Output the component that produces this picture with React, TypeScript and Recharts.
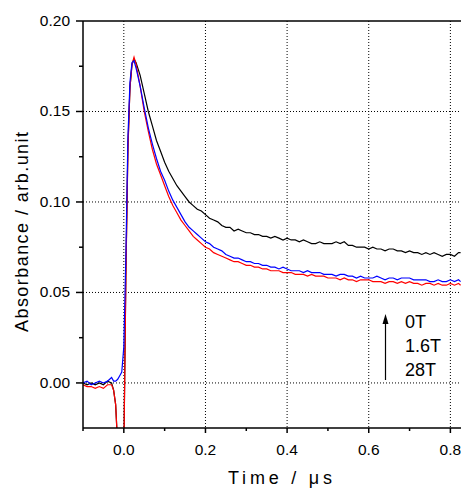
import { LineChart, Line, XAxis, YAxis, CartesianGrid, ReferenceLine } from 'recharts';

// time in microseconds
const time = [
  -0.1, -0.09, -0.08, -0.07, -0.06, -0.05, -0.04, -0.03,
  -0.025, -0.02, -0.015, -0.01, -0.005, 0, 0.005, 0.01, 0.015, 0.02, 0.025,
  0.03, 0.04, 0.05, 0.06, 0.07, 0.08, 0.09, 0.1, 0.11, 0.12,
  0.13, 0.14, 0.15, 0.16, 0.17, 0.18, 0.19, 0.2, 0.21, 0.22,
  0.23, 0.24, 0.25, 0.26, 0.27, 0.28, 0.29, 0.3, 0.31, 0.32,
  0.33, 0.34, 0.35, 0.36, 0.37, 0.38, 0.39, 0.4, 0.41, 0.42,
  0.43, 0.44, 0.45, 0.46, 0.47, 0.48, 0.49, 0.5, 0.51, 0.52,
  0.53, 0.54, 0.55, 0.56, 0.57, 0.58, 0.59, 0.6, 0.61, 0.62,
  0.63, 0.64, 0.65, 0.66, 0.67, 0.68, 0.69, 0.7, 0.71, 0.72,
  0.73, 0.74, 0.75, 0.76, 0.77, 0.78, 0.79, 0.8, 0.81, 0.82, 0.825,
];

// 0T (black)
const abs0T = [
  0.0, -0.001, 0.0, -0.001, 0.0, -0.001, 0.001, 0.0,
  -0.004, -0.012, -0.035, -0.06, -0.07, -0.04, 0.06, 0.13, 0.163, 0.176, 0.179,
  0.177, 0.17, 0.16, 0.15, 0.142, 0.134, 0.128, 0.122, 0.117, 0.113,
  0.109, 0.106, 0.103, 0.1, 0.098, 0.096, 0.095, 0.093, 0.091, 0.09,
  0.089, 0.087, 0.086, 0.086, 0.084, 0.085, 0.084, 0.083, 0.083, 0.082,
  0.082, 0.081, 0.081, 0.08, 0.081, 0.08, 0.079, 0.08, 0.079, 0.079,
  0.078, 0.079, 0.078, 0.077, 0.077, 0.078, 0.077, 0.077, 0.077, 0.078,
  0.077, 0.078, 0.076, 0.076, 0.075, 0.075, 0.075, 0.074, 0.075, 0.074,
  0.074, 0.073, 0.074, 0.074, 0.073, 0.073, 0.072, 0.073, 0.072, 0.072,
  0.071, 0.072, 0.071, 0.072, 0.071, 0.07, 0.071, 0.071, 0.07, 0.072, 0.072,
];

// 1.6T (blue)
const abs1p6T = [
  0.0, 0.001, -0.001, 0.0, 0.001, 0.0, 0.001, 0.003,
  0.001, 0.001, 0.002, 0.004, 0.006, 0.02, 0.07, 0.135, 0.166, 0.177, 0.178,
  0.174, 0.164, 0.152, 0.141, 0.132, 0.124, 0.117, 0.112, 0.106, 0.101,
  0.097, 0.093, 0.089, 0.086, 0.084, 0.082, 0.08, 0.078, 0.077, 0.075,
  0.074, 0.073, 0.071, 0.07, 0.069, 0.069, 0.068, 0.067, 0.067, 0.066,
  0.066, 0.065, 0.065, 0.064, 0.064, 0.063, 0.064, 0.063, 0.062, 0.062,
  0.062, 0.061, 0.062, 0.061, 0.061, 0.061, 0.06, 0.06, 0.06, 0.059,
  0.06, 0.06, 0.059, 0.059, 0.058, 0.059, 0.058, 0.058, 0.058, 0.059,
  0.058, 0.057, 0.058, 0.058, 0.057, 0.058, 0.058, 0.058, 0.057, 0.057,
  0.057, 0.057, 0.056, 0.056, 0.057, 0.056, 0.056, 0.057, 0.056, 0.057, 0.056,
];

// 28T (red)
const abs28T = [
  -0.001, -0.002, -0.002, -0.003, -0.002, -0.003, -0.001, -0.001,
  -0.004, -0.012, -0.035, -0.06, -0.07, -0.04, 0.058, 0.128, 0.163, 0.176, 0.18,
  0.176, 0.164, 0.15, 0.139, 0.129, 0.121, 0.115, 0.109, 0.103, 0.098,
  0.094, 0.09, 0.087, 0.084, 0.081, 0.079, 0.077, 0.075, 0.074, 0.072,
  0.071, 0.07, 0.069, 0.068, 0.067, 0.067, 0.066, 0.065, 0.065, 0.064,
  0.064, 0.063, 0.063, 0.062, 0.062, 0.062, 0.061, 0.061, 0.061, 0.06,
  0.06, 0.06, 0.059, 0.06, 0.059, 0.059, 0.059, 0.058, 0.058, 0.058,
  0.057, 0.058, 0.057, 0.057, 0.056, 0.057, 0.057, 0.057, 0.056, 0.056,
  0.056, 0.055, 0.056, 0.056, 0.055, 0.056, 0.055, 0.056, 0.055, 0.055,
  0.054, 0.055, 0.055, 0.054, 0.055, 0.054, 0.054, 0.055, 0.054, 0.055, 0.054,
];

const xMajor = [0, 0.2, 0.4, 0.6, 0.8];
const xMinor = [-0.1, 0.1, 0.3, 0.5, 0.7];
const yMajor = [0, 0.05, 0.1, 0.15, 0.2];
const yMinor = [0.025, 0.075, 0.125, 0.175];
const fieldLabels = ['0T', '1.6T', '28T'];

const data = time.map((t, i) => ({
  t,
  a: abs0T[i],
  b: abs1p6T[i],
  c: abs28T[i],
}));

const FONT = '"Liberation Sans", Arial, sans-serif';

const XTick = (props: any) => {
  const { x, y, payload } = props;
  const major = xMajor.includes(payload.value);
  return (
    <g>
      <line x1={x} x2={x} y1={y} y2={y + (major ? 5 : 3)} stroke="#000" strokeWidth={1.5} />
      {major && (
        <text x={x} y={y + 27} textAnchor="middle" fontSize={15.5} fontFamily={FONT} fill="#000">
          {payload.value.toFixed(1)}
        </text>
      )}
    </g>
  );
};

const YTick = (props: any) => {
  const { x, y, payload } = props;
  const major = yMajor.includes(payload.value);
  return (
    <g>
      <line x1={x - (major ? 7 : 4)} x2={x} y1={y} y2={y} stroke="#000" strokeWidth={1.5} />
      {major && (
        <text x={x - 13} y={y + 5} textAnchor="end" fontSize={15.5} fontFamily={FONT} fill="#000">
          {payload.value.toFixed(2)}
        </text>
      )}
    </g>
  );
};

const App = () => {
  return (
    <div style={{ position: 'absolute', left: 0, top: 0, width: 461, height: 488, background: '#fff' }}>
      <LineChart width={461} height={488} data={data} margin={{ top: 21, right: 0, bottom: 0, left: 0 }}>
        <CartesianGrid
          stroke="#000"
          strokeDasharray="1 2"
          horizontalValues={[0, 0.05, 0.1, 0.15]}
          verticalValues={[0, 0.2, 0.4, 0.6, 0.8]}
        />
        <XAxis
          dataKey="t"
          type="number"
          domain={[-0.1, 0.826]}
          allowDataOverflow
          ticks={[...xMinor, ...xMajor].sort((p, q) => p - q)}
          tick={<XTick />}
          tickSize={0}
          tickMargin={0}
          tickLine={false}
          height={60}
          axisLine={{ stroke: '#000', strokeWidth: 1.5 }}
          interval={0}
        />
        <YAxis
          type="number"
          domain={[-0.0249, 0.2]}
          allowDataOverflow
          ticks={[...yMinor, ...yMajor].sort((p, q) => p - q)}
          tick={<YTick />}
          tickSize={0}
          tickMargin={0}
          tickLine={false}
          width={83}
          axisLine={{ stroke: '#000', strokeWidth: 1.5 }}
          interval={0}
        />
        <ReferenceLine y={0.2} stroke="#000" strokeWidth={1.5} />
        <Line dataKey="a" stroke="#000" strokeWidth={1.2} dot={false} isAnimationActive={false} type="linear" />
        <Line dataKey="c" stroke="#ff0000" strokeWidth={1.2} dot={false} isAnimationActive={false} type="linear" />
        <Line dataKey="b" stroke="#0000ff" strokeWidth={1.2} dot={false} isAnimationActive={false} type="linear" />
      </LineChart>
      <svg width={461} height={488} style={{ position: 'absolute', left: 0, top: 0, pointerEvents: 'none' }}>
        <text
          x={228}
          y={484}
          fontSize={18}
          fontFamily={FONT}
          fill="#000"
          textLength={104}
          lengthAdjust="spacing"
        >
          Time / μs
        </text>
        <text
          transform="translate(28,332) rotate(-90)"
          fontSize={18}
          fontFamily={FONT}
          fill="#000"
          textLength={200}
          lengthAdjust="spacing"
        >
          Absorbance / arb.unit
        </text>
        <line x1={385.5} x2={385.5} y1={380} y2={322} stroke="#000" strokeWidth={1.2} />
        <polygon points="385.5,314 382.5,324 388.5,324" fill="#000" />
        {fieldLabels.map((s, i) => (
          <text key={s} x={405} y={328 + i * 24} fontSize={18} fontFamily={FONT} fill="#000">
            {s}
          </text>
        ))}
      </svg>
    </div>
  );
};

export default App;
